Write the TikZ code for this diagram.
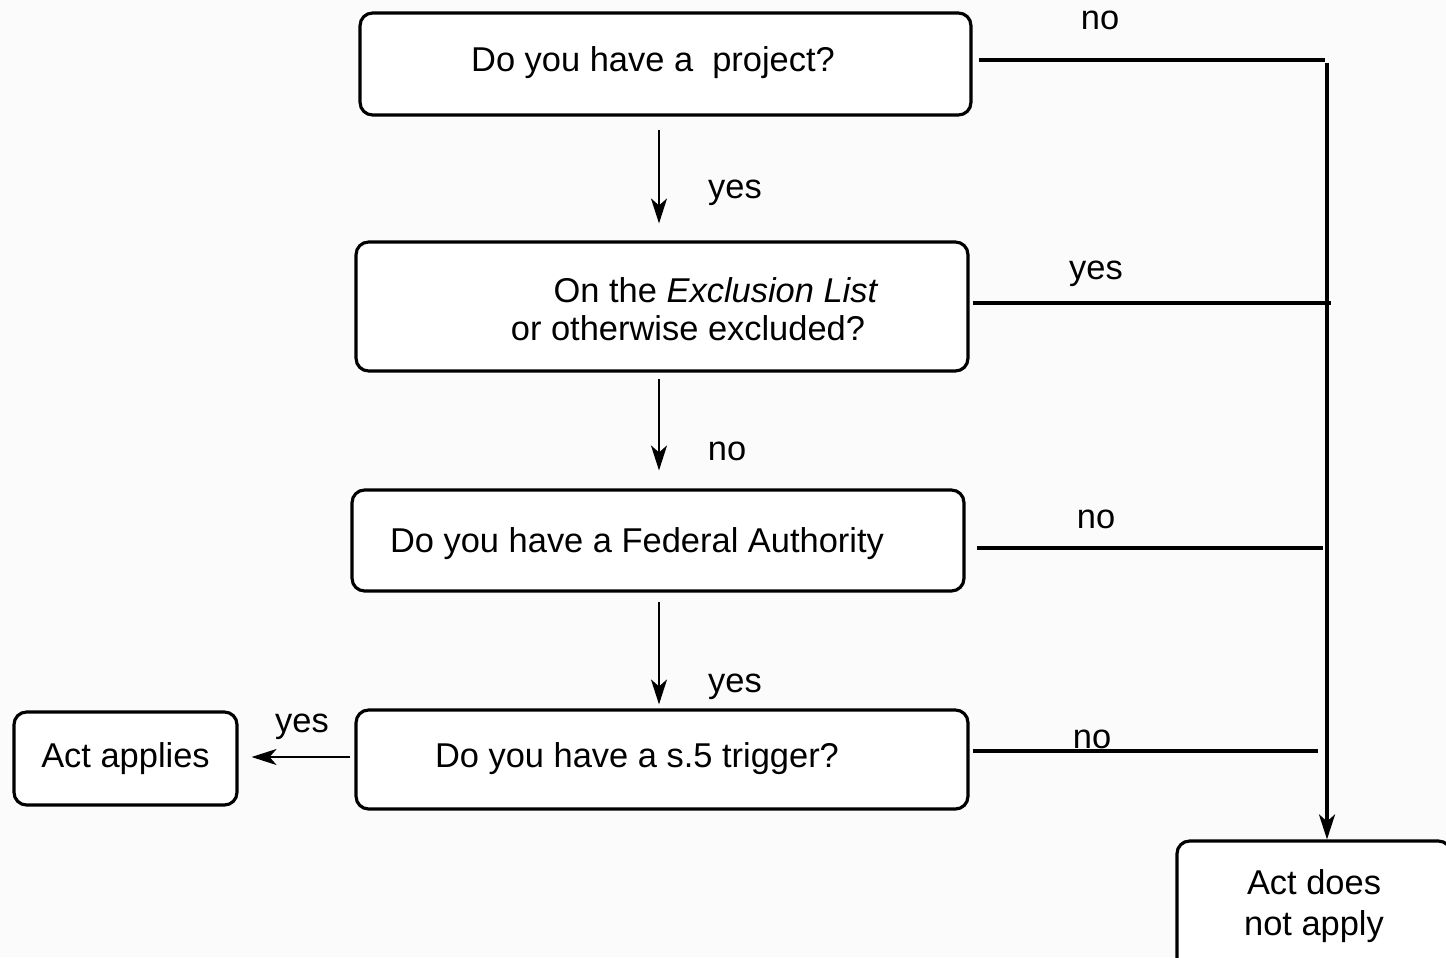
\documentclass[tikz,border=0pt]{standalone}
\usepackage{fontspec}
\setmainfont{Liberation Sans}
\usetikzlibrary{positioning,arrows.meta}

\tikzset{
  qbox/.style={draw, rounded corners=0.25cm, line width=1.8pt, fill=white, inner sep=0pt},
  txt/.style={anchor=base, inner sep=0pt},
  arr/.style={line width=1.3pt, -{Stealth[length=0.5cm,width=0.32cm,inset=0.14cm]}},
  rail/.style={line width=2pt},
}

\begin{document}
\begin{tikzpicture}[x=0.02cm, y=-0.02cm, font=\fontsize{19.6}{23.5}\selectfont]
    \useasboundingbox (0,0) rectangle (1446,957);
    \clip (0,0) rectangle (1446,957);
    \fill[white!98.5!black] (0,0) rectangle (1446,957);

    % Questions
    \node[qbox, minimum width=12.22cm, minimum height=2.04cm] (q1) at (665.5,64) {};
    \node[qbox, minimum width=12.24cm, minimum height=2.58cm] (q2) at (662,306.5) {};
    \node[qbox, minimum width=12.24cm, minimum height=2.02cm] (q3) at (658,540.5) {};
    \node[qbox, minimum width=12.24cm, minimum height=1.98cm] (q4) at (662,759.5) {};

    \node[txt] (t1) at (653,71) {Do you have a\ \ project?};
    \node[txt] (t2a) at (716,302) {On the \textit{Exclusion List}};
    \node[txt] (t2b) at (688,340) {or otherwise excluded?};
    \node[txt] (t3) at (637,552) {Do you have a Federal Authority};
    \node[txt] (t4) at (637,767) {Do you have a s.5 trigger?};

    % Outcomes
    \node[qbox, minimum width=4.46cm, minimum height=1.86cm] (applies) at (125.5,758.5) {Act applies\hspace{0.2cm}};
    \node[qbox, minimum width=5.48cm, minimum height=2.6cm, align=center] (notapply) at (1314,906) {Act does\\not apply};

    % Down the questions
    \coordinate (ax) at (659,0);
    \draw[arr, shorten <=0.26cm, shorten >=0.34cm] (q1.south -| ax) -- (q2.north -| ax);
    \draw[arr, shorten <=0.12cm, shorten >=0.36cm] (q2.south -| ax) -- (q3.north -| ax);
    \draw[arr, shorten <=0.18cm, shorten >=0.08cm] (q3.south -| ax) -- (q4.north -| ax);
    \coordinate (ly) at (0,757);
    \draw[arr, shorten <=0.08cm, shorten >=0.26cm] (q4.west |- ly) -- (applies.east |- ly);

    % Right side
    \coordinate (railtop) at (1327,63);
    \draw[arr, rail] (railtop) -- (notapply.north -| railtop);
    \coordinate (b1) at (1325,60);
    \coordinate (b2) at (1331,303);
    \coordinate (b3) at (1323,548);
    \coordinate (b4) at (1318,751);
    \draw[rail, shorten <=0.12cm] (q1.east |- b1) -- (b1);
    \draw[rail, shorten <=0.06cm] (q2.east |- b2) -- (b2);
    \draw[rail, shorten <=0.22cm] (q3.east |- b3) -- (b3);
    \draw[rail, shorten <=0.06cm] (q4.east |- b4) -- (b4);

    % Labels
    \node[txt] (l1) at (1100,29) {no};
    \node[txt] (l2) at (735,198) {yes};
    \node[txt] (l3) at (1096,279) {yes};
    \node[txt] (l4) at (727,460) {no};
    \node[txt] (l5) at (1096,528) {no};
    \node[txt] (l6) at (735,692) {yes};
    \node[txt] (l7) at (302,732) {yes};
    \node[txt] (l8) at (1092,748) {no};
\end{tikzpicture}
\end{document}
